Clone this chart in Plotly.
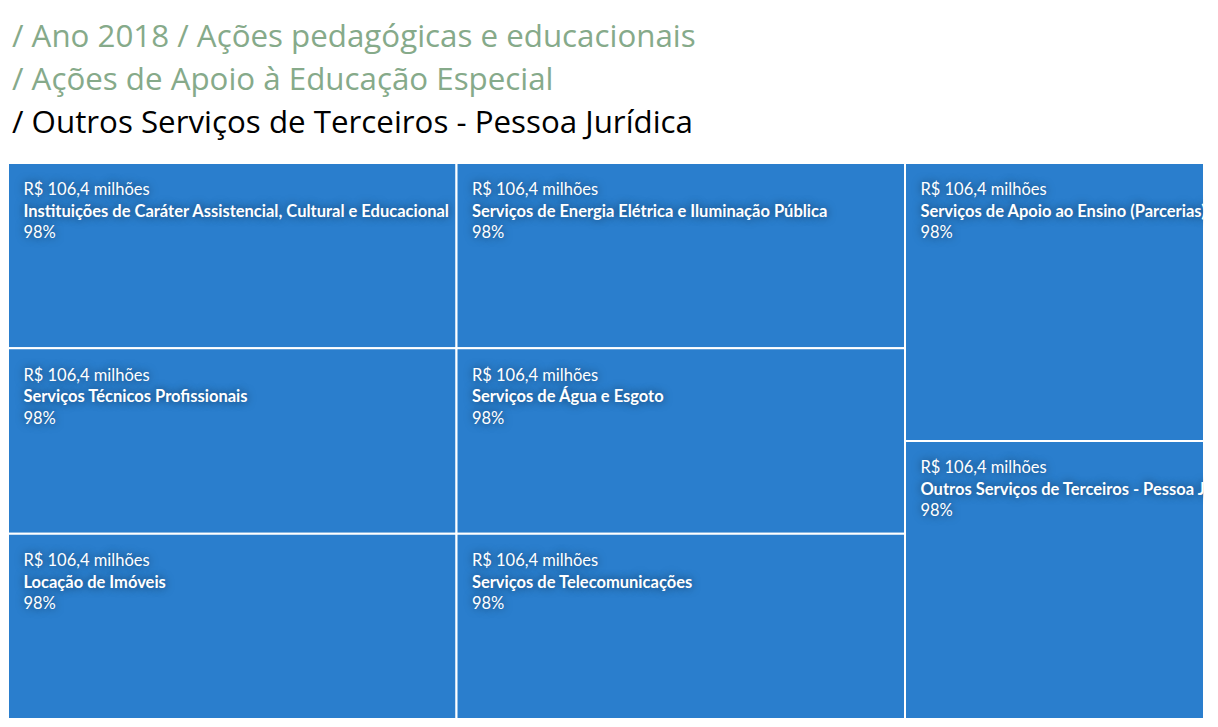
import plotly.graph_objects as go

# ---- data ----
breadcrumb_lines = [
    "/ Ano 2018 / Ações pedagógicas e educacionais",
    "/ Ações de Apoio à Educação Especial",
    "/ Outros Serviços de Terceiros - Pessoa Jurídica",
]
categories = [
    "Instituições de Caráter Assistencial, Cultural e Educacional",
    "Serviços Técnicos Profissionais",
    "Locação de Imóveis",
    "Serviços de Energia Elétrica e Iluminação Pública",
    "Serviços de Água e Esgoto",
    "Serviços de Telecomunicações",
    "Serviços de Apoio ao Ensino (Parcerias)",
    "Outros Serviços de Terceiros - Pessoa Jurídica",
]
column_groups = ["g1", "g2", "g3"]
group_of = ["g1", "g1", "g1", "g2", "g2", "g2", "g3", "g3"]
tile_weights = [1, 1, 1, 1, 1, 1, 1, 1]
amounts_millions = [106.4, 106.4, 106.4, 106.4, 106.4, 106.4, 106.4, 106.4]
percents = [98, 98, 98, 98, 98, 98, 98, 98]

TILE = "#2a7ecd"
PAD = "\u2002\u2005"
SPACER = "<span style='font-size:8px'>\u00a0</span><br>"

def brl(v):
    return "R$ " + f"{v:.1f}".replace(".", ",") + " milhões"

ids, labels, parents, values, colors, templates = [], [], [], [], [], []
for g in column_groups:
    ids.append(g)
    labels.append(g)
    parents.append("")
    values.append(sum(w for w, gg in zip(tile_weights, group_of) if gg == g))
    colors.append(TILE)
    templates.append("")
for i, name in enumerate(categories):
    ids.append(f"t{i}")
    labels.append(name)
    parents.append(group_of[i])
    values.append(tile_weights[i])
    colors.append(TILE)
    templates.append(
        SPACER + PAD + brl(amounts_millions[i]) + "<br>" + PAD + "<b>" + name + "</b><br>"
        + PAD + f"{percents[i]}%"
    )

fig = go.Figure(go.Treemap(
    ids=ids, labels=labels, parents=parents, values=values,
    branchvalues="total", sort=False,
    texttemplate=templates,
    textposition="top left",
    textfont=dict(family="Lato", size=16.5, color="white",
                  shadow="0px 0px 9px rgba(0,0,0,0.55)"),
    marker=dict(colors=colors, line=dict(color="white", width=2),
                pad=dict(t=0, l=0, r=0, b=0)),
    tiling=dict(packing="slice-dice", pad=0),
    pathbar=dict(visible=False),
    hoverinfo="none",
))

title_colors = ["#86aa8a", "#86aa8a", "#000000"]
title_y = [1.2302, 1.1529, 1.0755]
for line, col, yy in zip(breadcrumb_lines, title_colors, title_y):
    fig.add_annotation(text=line, xref="paper", yref="paper", x=0, y=yy,
                       xanchor="left", yanchor="middle", xshift=2, showarrow=False,
                       font=dict(family="Open Sans", size=31.3, color=col))

fig.update_layout(
    width=1196, height=711, autosize=False,
    margin=dict(l=0, r=0, t=155, b=0),
    paper_bgcolor="white",
    uniformtext=dict(minsize=16.5, mode="show"),
)
fig.write_html("out.html")
